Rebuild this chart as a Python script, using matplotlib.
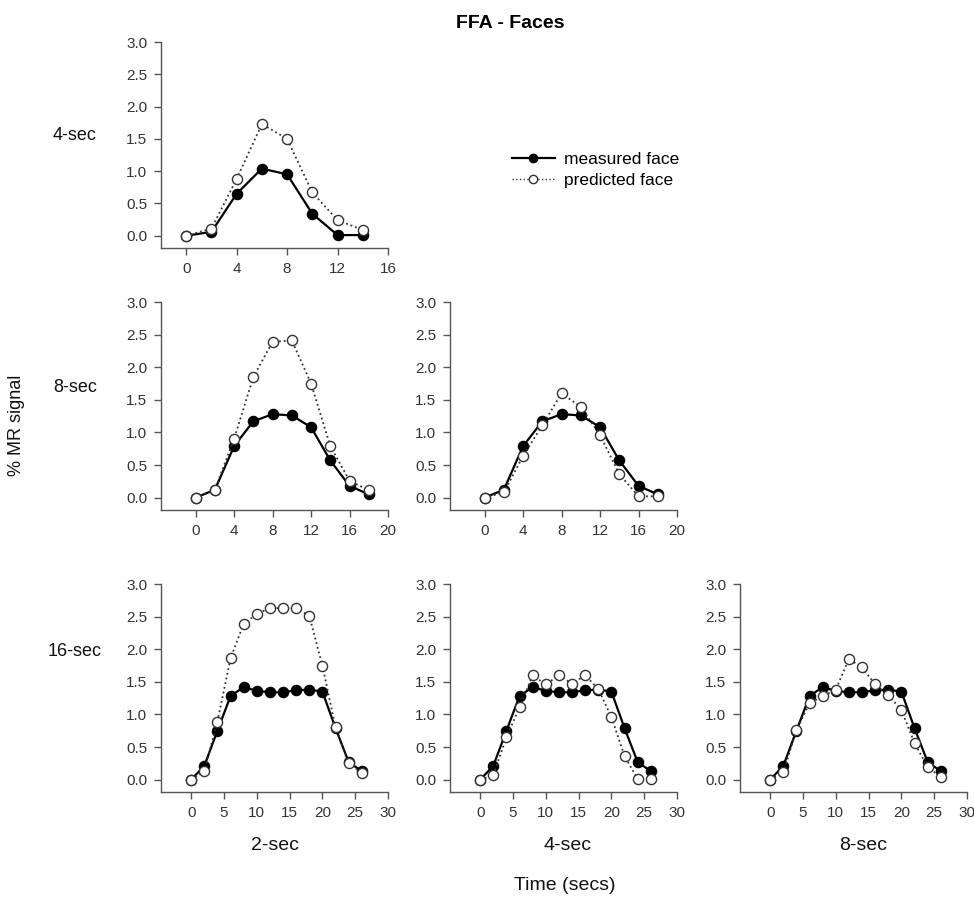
import matplotlib
matplotlib.use("Agg")
import matplotlib.pyplot as plt
from matplotlib.lines import Line2D

plt.rcParams['font.family'] = ['Liberation Sans', 'DejaVu Sans']

# ---------------- data ----------------
t_4 = [0, 2, 4, 6, 8, 10, 12, 14]
t_8 = [0, 2, 4, 6, 8, 10, 12, 14, 16, 18]
t_16 = [0, 2, 4, 6, 8, 10, 12, 14, 16, 18, 20, 22, 24, 26]

meas_4 = [0.0, 0.06, 0.65, 1.04, 0.95, 0.34, 0.01, 0.01]
pred_4_2 = [0.0, 0.11, 0.88, 1.73, 1.50, 0.67, 0.24, 0.09]

meas_8 = [0.0, 0.12, 0.79, 1.17, 1.28, 1.26, 1.08, 0.57, 0.18, 0.05]
pred_8_2 = [0.0, 0.12, 0.90, 1.85, 2.39, 2.41, 1.75, 0.79, 0.26, 0.11]
pred_8_4 = [0.0, 0.08, 0.64, 1.11, 1.60, 1.39, 0.96, 0.36, 0.02, 0.02]

meas_16 = [0.0, 0.21, 0.75, 1.28, 1.42, 1.36, 1.34, 1.34, 1.37, 1.38, 1.35, 0.79, 0.27, 0.13]
pred_16_2 = [0.0, 0.13, 0.89, 1.86, 2.39, 2.54, 2.63, 2.63, 2.63, 2.51, 1.75, 0.80, 0.26, 0.10]
pred_16_4 = [0.0, 0.07, 0.65, 1.11, 1.60, 1.46, 1.60, 1.47, 1.60, 1.39, 0.96, 0.36, 0.01, 0.01]
pred_16_8 = [0.0, 0.11, 0.76, 1.17, 1.28, 1.38, 1.85, 1.72, 1.46, 1.29, 1.07, 0.56, 0.19, 0.04]

yticks = [0.0, 0.5, 1.0, 1.5, 2.0, 2.5, 3.0]
xticks_4 = [0, 4, 8, 12, 16]
xticks_8 = [0, 4, 8, 12, 16, 20]
xticks_16 = [0, 5, 10, 15, 20, 25, 30]

row_labels = ["4-sec", "8-sec", "16-sec"]
col_labels = ["2-sec", "4-sec", "8-sec"]

# ---------------- figure ----------------
W, H = 974, 907
fig = plt.figure(figsize=(W / 100, H / 100), dpi=100)

def add_ax(left, right, top, bottom):
    return fig.add_axes([left / W, 1 - bottom / H, (right - left) / W, (bottom - top) / H])

spine_col = '#555555'
text_col = '#333333'

def style(ax, xlim, xticks):
    ax.set_xlim(*xlim)
    ax.set_ylim(-0.19, 3.0)
    ax.set_xticks(xticks)
    ax.set_yticks(yticks)
    ax.set_yticklabels([f"{v:.1f}" for v in yticks])
    for s in ['top', 'right']:
        ax.spines[s].set_visible(False)
    for s in ['left', 'bottom']:
        ax.spines[s].set_color(spine_col)
        ax.spines[s].set_linewidth(1.0)
    ax.tick_params(direction='out', length=5, width=1.0, color=spine_col,
                   labelsize=11, labelcolor=text_col, pad=5)
    ax.patch.set_alpha(0)

def draw(ax, t, meas, pred):
    ax.plot(t, pred, linestyle=':', color='#333333', linewidth=1.3, marker='o',
            markersize=7.3, markerfacecolor='white', markeredgecolor='#333333',
            markeredgewidth=1.0, zorder=3)
    ax.plot(t, meas, linestyle='-', color='black', linewidth=1.6, marker='o',
            markersize=7.3, markerfacecolor='black', markeredgecolor='black', zorder=2)

rows = [(42, 248), (302, 510), (584, 792)]
cols = [(161, 388), (450, 677), (740, 967)]

# Row 1
ax = add_ax(cols[0][0], cols[0][1], *rows[0])
style(ax, (-2.0, 16), xticks_4)
draw(ax, t_4, meas_4, pred_4_2)

# Row 2
ax = add_ax(cols[0][0], cols[0][1], *rows[1])
style(ax, (-3.6, 20), xticks_8)
draw(ax, t_8, meas_8, pred_8_2)
ax = add_ax(cols[1][0], cols[1][1], *rows[1])
style(ax, (-3.6, 20), xticks_8)
draw(ax, t_8, meas_8, pred_8_4)

# Row 3
preds16 = [pred_16_2, pred_16_4, pred_16_8]
for c in range(3):
    ax = add_ax(cols[c][0], cols[c][1], *rows[2])
    style(ax, (-4.6, 30), xticks_16)
    draw(ax, t_16, meas_16, preds16[c])

# Legend
handles = [
    Line2D([], [], linestyle='-', color='black', linewidth=1.6, marker='o',
           markersize=6, markerfacecolor='black'),
    Line2D([], [], linestyle=':', color='#333333', linewidth=1.0, marker='o',
           markersize=6, markerfacecolor='white', markeredgecolor='#333333'),
]
fig.legend(handles, ['measured face', 'predicted face'], loc='center left',
           bbox_to_anchor=(503 / W, 1 - 170 / H), frameon=False, fontsize=12.5,
           handlelength=2.5, handletextpad=0.5, labelspacing=0.3, borderpad=0)

# Texts
narrow = ['Liberation Sans Narrow', 'Liberation Sans', 'DejaVu Sans']
fig.text(510 / W, 1 - 23 / H, "FFA - Faces", ha='center', va='center',
         fontsize=14, fontweight='bold', family=narrow)
row_y = [136, 388, 652]
for lab, y in zip(row_labels, row_y):
    fig.text(75 / W, 1 - y / H, lab, ha='center', va='center', fontsize=13,
             color='#111111')
col_x = [275, 567, 863]
for lab, x in zip(col_labels, col_x):
    fig.text(x / W, 1 - 846 / H, lab, ha='center', va='center', fontsize=14,
             family=narrow, color='#111111')
fig.text(565 / W, 1 - 886 / H, "Time (secs)", ha='center', va='center',
         fontsize=14, family=narrow, color='#111111')
fig.text(17 / W, 1 - 425 / H, "% MR signal", ha='center', va='center',
         rotation=90, fontsize=13, color='#111111')

fig.savefig("out.png", dpi=100)
